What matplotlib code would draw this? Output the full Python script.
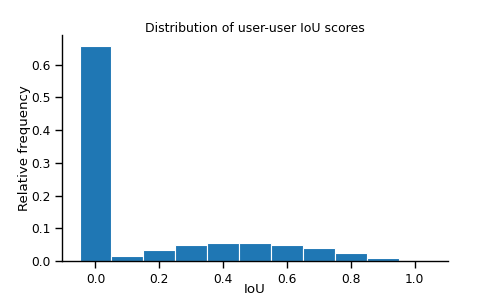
import matplotlib
matplotlib.use("Agg")
import matplotlib.pyplot as plt
import seaborn as sns

bin_centers = [0.0, 0.1, 0.2, 0.3, 0.4, 0.5, 0.6, 0.7, 0.8, 0.9, 1.0]
rel_freq = [0.658, 0.014, 0.033, 0.049, 0.056, 0.054, 0.048, 0.039, 0.025, 0.009, 0.001]
x_ticks = [0.0, 0.2, 0.4, 0.6, 0.8, 1.0]

sns.set_theme(context="paper", style="ticks")
plt.rcParams['font.family'] = ['DejaVu Sans']

fig = plt.figure(figsize=(4.98, 2.99), dpi=100)
ax = fig.add_axes([62/498, (299-261)/299, (448-62)/498, (261-35)/299])
ax.bar(bin_centers, rel_freq, width=0.1, color="#1f77b4", edgecolor="white", linewidth=0.8)
ax.set_title("Distribution of user-user IoU scores", pad=2.5, fontsize=9, color="black")
ax.set_xlabel("IoU", color="black")
ax.set_ylabel("Relative frequency", color="black")
ax.yaxis.set_label_coords(-0.097, 0.5)
ax.xaxis.set_label_coords(0.5, -0.124)
ax.xaxis.label.set_va("center")
ax.yaxis.label.set_va("center")
ax.set_xticks(x_ticks)
ax.tick_params(colors="black", labelcolor="black")
for s in ax.spines.values():
    s.set_color("black")
sns.despine(ax=ax)
fig.savefig("out.png", dpi=100)
